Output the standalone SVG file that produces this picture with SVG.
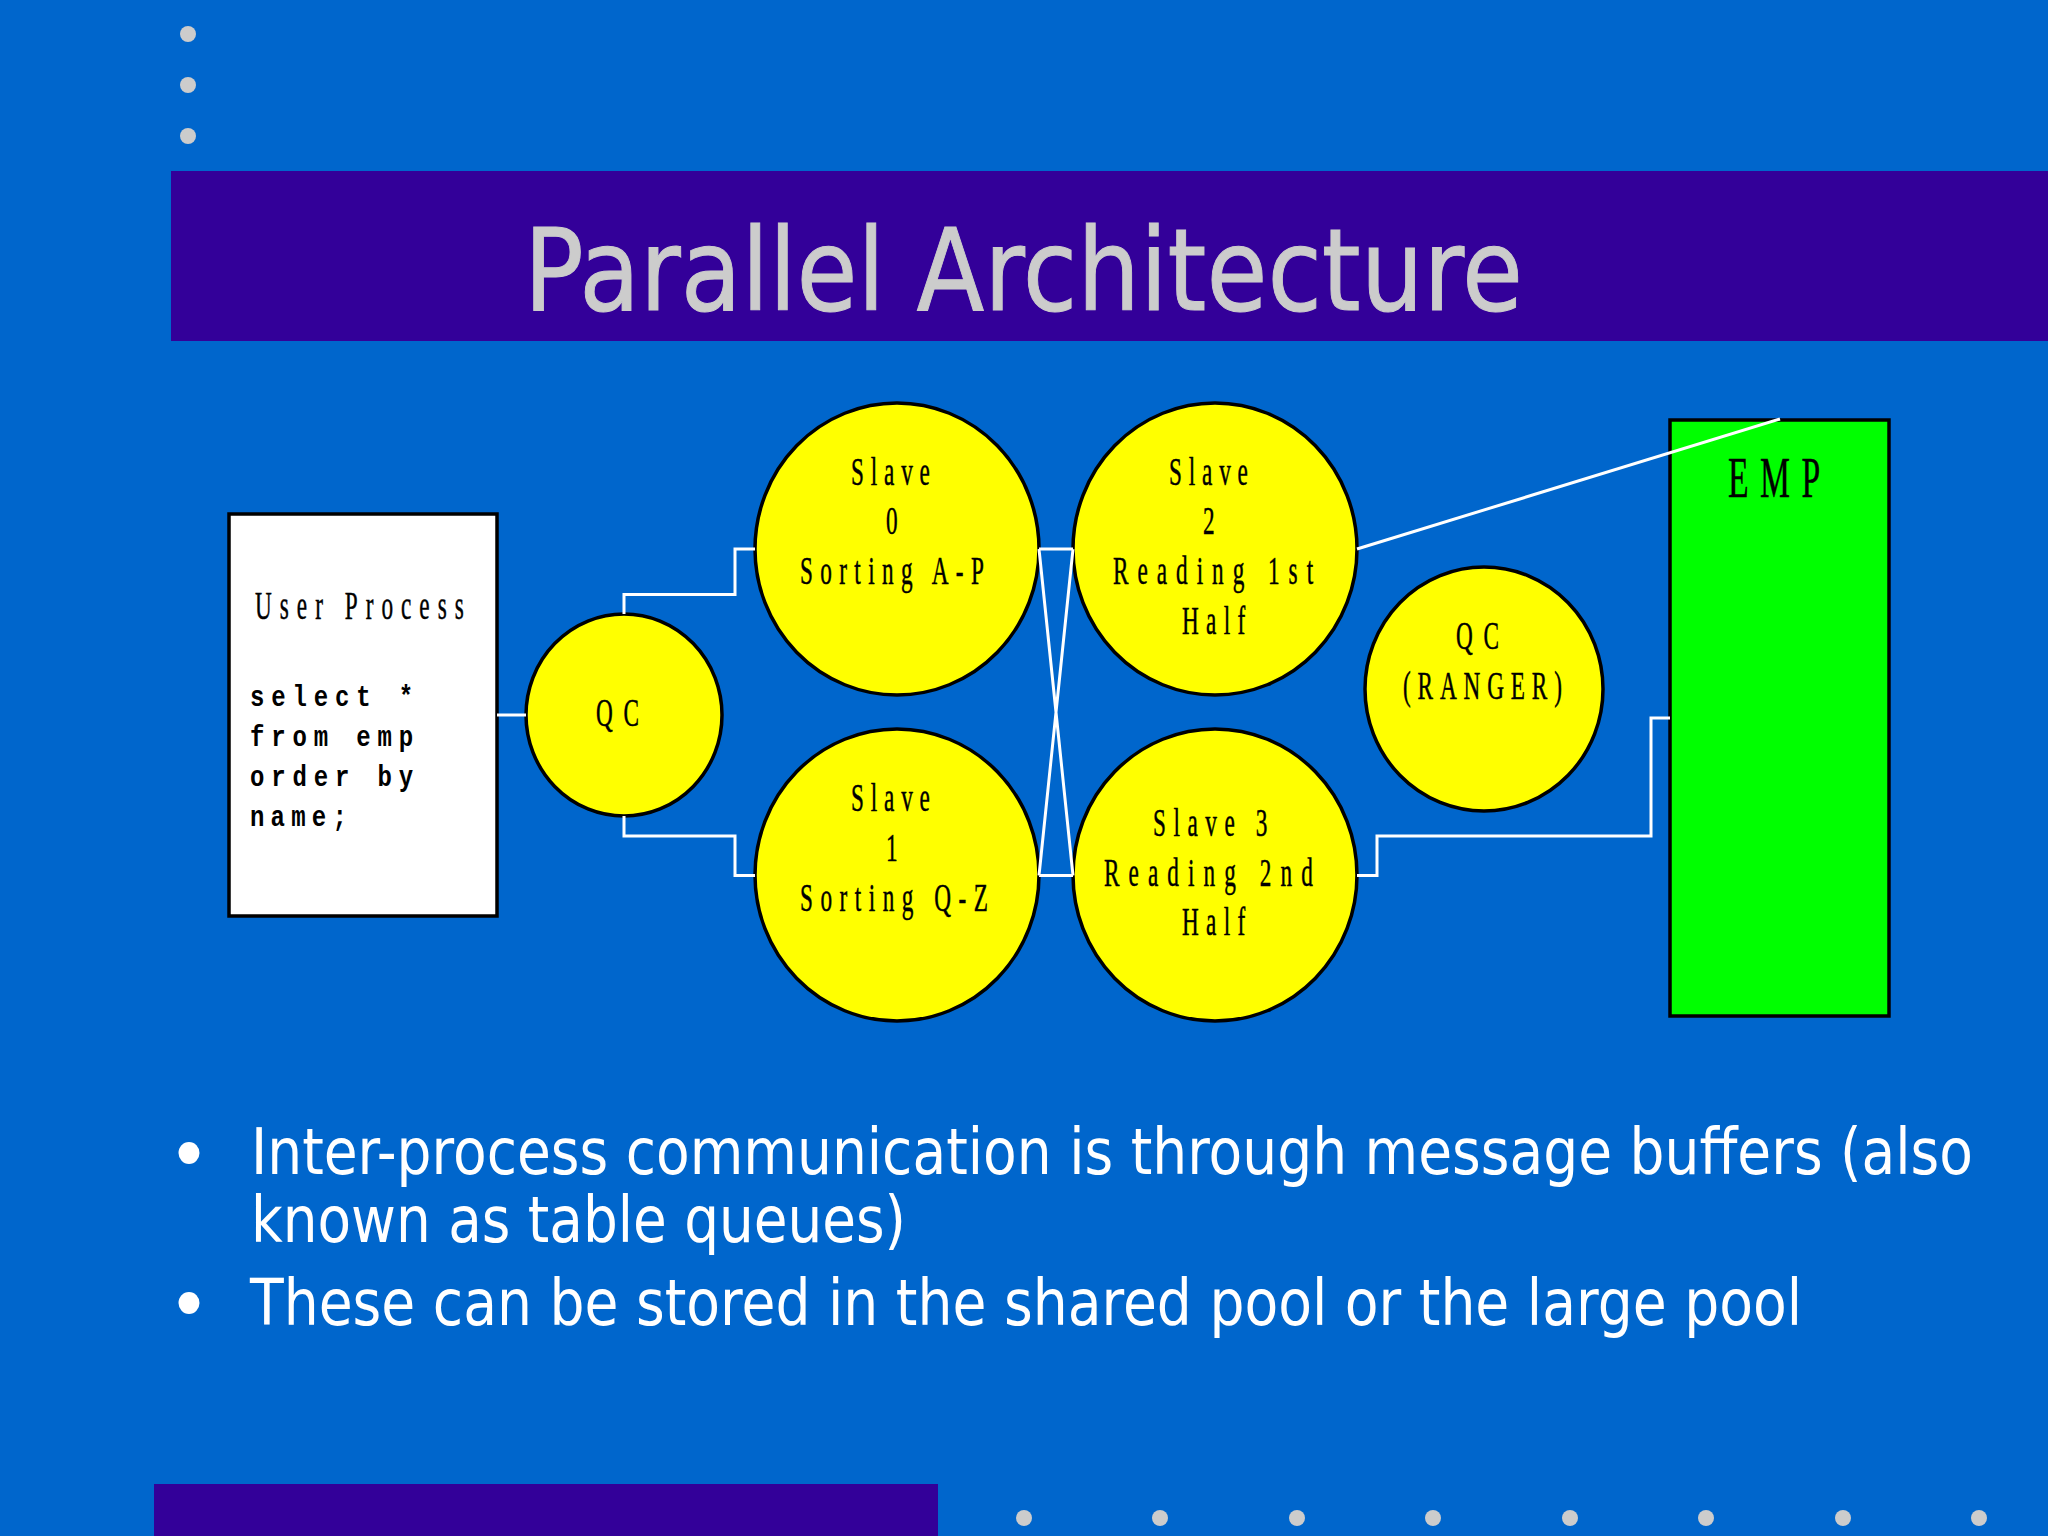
<svg xmlns="http://www.w3.org/2000/svg" width="2048" height="1536" viewBox="0 0 2048 1536">
<style>
.bar{fill:#330099}
.dot{fill:#cccccc}
.node{stroke:#000;stroke-width:3.500}
.y{fill:#ffff00}
.s{font-family:"Liberation Serif",serif;font-size:40px;fill:#000;stroke:#000;stroke-width:.5px}
.m{font-family:"Liberation Mono",monospace;font-size:30px;font-weight:bold;fill:#000}
.b{font-family:"DejaVu Sans",sans-serif;font-size:64px;fill:#fff}
.t{font-family:"DejaVu Sans",sans-serif;font-size:114px;fill:#cccccc;stroke:#cccccc;stroke-width:1px}
#connectors path{fill:none;stroke:#fff;stroke-width:3}
</style>
<rect width="2048" height="1536" fill="#0066cc"/>
<rect class="bar" x="171" y="171" width="1877" height="170"/>
<rect class="bar" x="154" y="1484" width="784" height="52"/>
<g class="dot"><circle cx="188" cy="34" r="8"/><circle cx="188" cy="85" r="8"/><circle cx="188" cy="136" r="8"/>
<circle cx="1024" cy="1518" r="8"/><circle cx="1160" cy="1518" r="8"/><circle cx="1297" cy="1518" r="8"/><circle cx="1433" cy="1518" r="8"/><circle cx="1570" cy="1518" r="8"/><circle cx="1706" cy="1518" r="8"/><circle cx="1843" cy="1518" r="8"/><circle cx="1979" cy="1518" r="8"/></g>
<text class="t" x="524" y="310" textLength="999" lengthAdjust="spacingAndGlyphs">Parallel Architecture</text>
<g id="user-process"><rect class="node" x="229" y="514" width="268" height="402" fill="#fff"/>
<text class="s" transform="translate(255,619) scale(.58,1)" textLength="360">User Process</text>
<text class="m" transform="translate(250,706) scale(.8,1)" textLength="204">select *</text>
<text class="m" transform="translate(250,746) scale(.8,1)" textLength="204">from emp</text>
<text class="m" transform="translate(250,786) scale(.8,1)" textLength="204">order by</text>
<text class="m" transform="translate(250,826) scale(.8,1)" textLength="121">name;</text></g>
<g id="qc"><ellipse class="node y" cx="624" cy="715" rx="98" ry="101"/>
<text class="s" transform="translate(596,726) scale(.58,1)" textLength="74">QC</text></g>
<g id="slave0"><ellipse class="node y" cx="897" cy="549" rx="142" ry="146"/>
<text class="s" transform="translate(851,485) scale(.58,1)" textLength="136">Slave</text>
<text class="s" transform="translate(886,534) scale(.58,1)">0</text>
<text class="s" transform="translate(800,584) scale(.58,1)" textLength="317">Sorting A-P</text></g>
<g id="slave1"><ellipse class="node y" cx="897" cy="875" rx="142" ry="146"/>
<text class="s" transform="translate(851,811) scale(.58,1)" textLength="136">Slave</text>
<text class="s" transform="translate(886,861) scale(.58,1)">1</text>
<text class="s" transform="translate(800,911) scale(.58,1)" textLength="324">Sorting Q-Z</text></g>
<g id="slave2"><ellipse class="node y" cx="1215" cy="549" rx="142" ry="146"/>
<text class="s" transform="translate(1169,485) scale(.58,1)" textLength="136">Slave</text>
<text class="s" transform="translate(1203,534) scale(.58,1)">2</text>
<text class="s" transform="translate(1113,584) scale(.58,1)" textLength="345">Reading 1st</text>
<text class="s" transform="translate(1182,634) scale(.58,1)" textLength="109">Half</text></g>
<g id="slave3"><ellipse class="node y" cx="1215" cy="875" rx="142" ry="146"/>
<text class="s" transform="translate(1153,836) scale(.58,1)" textLength="197">Slave 3</text>
<text class="s" transform="translate(1104,886) scale(.58,1)" textLength="360">Reading 2nd</text>
<text class="s" transform="translate(1182,935) scale(.58,1)" textLength="109">Half</text></g>
<g id="qc-ranger"><ellipse class="node y" cx="1484" cy="689" rx="119" ry="122"/>
<text class="s" transform="translate(1456,649) scale(.58,1)" textLength="74">QC</text>
<text class="s" transform="translate(1403,699) scale(.58,1)" textLength="274">(RANGER)</text></g>
<g id="emp"><rect class="node" x="1670" y="420" width="219" height="596" fill="#00ff00"/>
<text class="s" style="font-size:58px" transform="translate(1728,497) scale(.58,1)" textLength="159">EMP</text></g>
<g id="connectors">
<path d="M497 715H526"/>
<path d="M624 614V594.500H735V549H755"/>
<path d="M624 816V836H735V875.500H755"/>
<path d="M1039 549H1073M1039 875.500H1073M1039 549L1073 875.500M1039 875.500L1073 549"/>
<path d="M1357 549L1780 419"/>
<path d="M1357 875.500H1377V836H1651V718H1670"/>
</g>
<g id="bullets">
<ellipse cx="189" cy="1153" rx="10.500" ry="11" fill="#fff"/><ellipse cx="189" cy="1303" rx="10.500" ry="11" fill="#fff"/>
<text class="b" x="251" y="1174" textLength="1722" lengthAdjust="spacingAndGlyphs">Inter-process communication is through message buffers (also</text>
<text class="b" x="251" y="1242" textLength="655" lengthAdjust="spacingAndGlyphs">known as table queues)</text>
<text class="b" x="250" y="1325" textLength="1552" lengthAdjust="spacingAndGlyphs">These can be stored in the shared pool or the large pool</text>
</g>
</svg>
